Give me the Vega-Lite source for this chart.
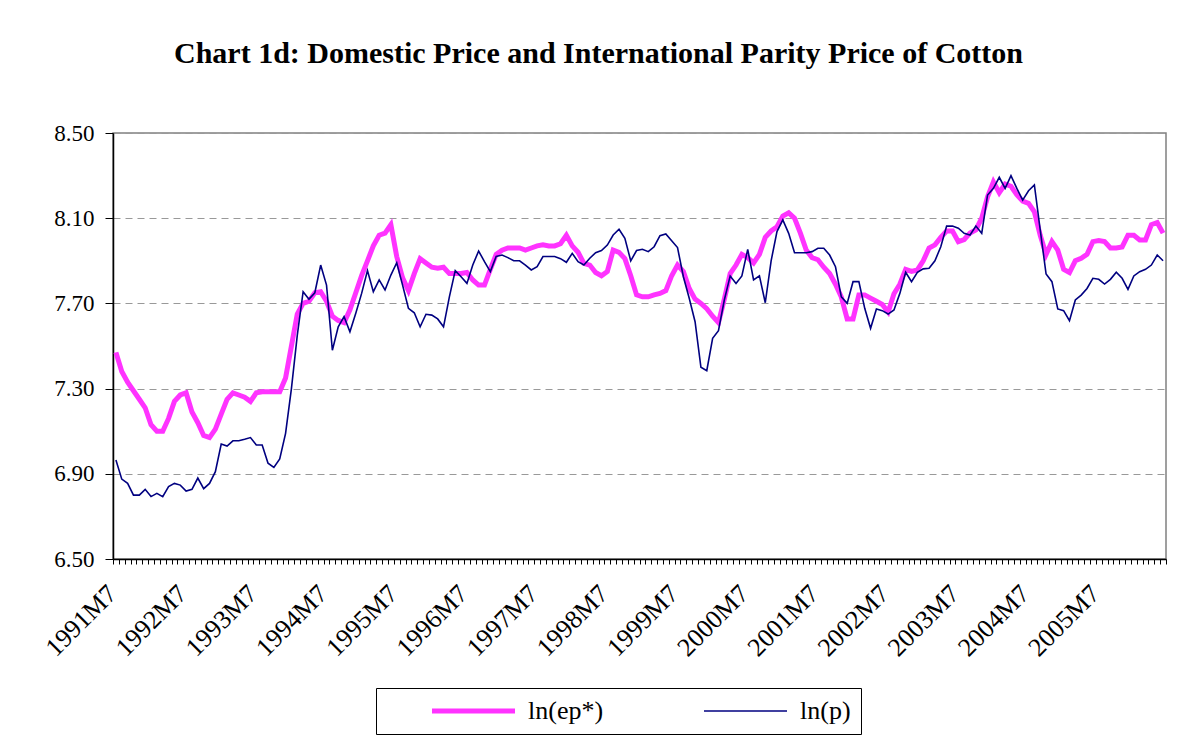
{
  "$schema": "https://vega.github.io/schema/vega-lite/v6.json",
  "width": 1053,
  "height": 426,
  "autosize": {"type": "none"},
  "padding": {"left": 113, "top": 133, "right": 21, "bottom": 180},
  "background": "white",
  "config": {"font": "Liberation Serif", "view": {"stroke": "#808080", "strokeWidth": 1.5}},
  "title": {"text": "Chart 1d: Domestic Price and International Parity Price of Cotton", "font": "Liberation Serif", "fontSize": 30, "fontWeight": "bold", "color": "black", "anchor": "middle", "baseline": "bottom", "offset": 23, "dx": -41},
  "data": {"values": [
    {"m":"1991M7","ep":7.47,"p":6.965},{"m":"1991M8","ep":7.38,"p":6.875},{"m":"1991M9","ep":7.33,"p":6.855},{"m":"1991M10","ep":7.29,"p":6.80},{"m":"1991M11","ep":7.25,"p":6.80},{"m":"1991M12","ep":7.21,"p":6.827},
    {"m":"1992M1","ep":7.13,"p":6.793},{"m":"1992M2","ep":7.10,"p":6.808},{"m":"1992M3","ep":7.10,"p":6.793},{"m":"1992M4","ep":7.16,"p":6.84},{"m":"1992M5","ep":7.24,"p":6.855},{"m":"1992M6","ep":7.27,"p":6.847},
    {"m":"1992M7","ep":7.28,"p":6.819},{"m":"1992M8","ep":7.19,"p":6.827},{"m":"1992M9","ep":7.14,"p":6.88},{"m":"1992M10","ep":7.08,"p":6.83},{"m":"1992M11","ep":7.07,"p":6.855},{"m":"1992M12","ep":7.11,"p":6.91},
    {"m":"1993M1","ep":7.18,"p":7.04},{"m":"1993M2","ep":7.25,"p":7.03},{"m":"1993M3","ep":7.28,"p":7.055},{"m":"1993M4","ep":7.27,"p":7.055},{"m":"1993M5","ep":7.26,"p":7.062},{"m":"1993M6","ep":7.24,"p":7.07},
    {"m":"1993M7","ep":7.28,"p":7.035},{"m":"1993M8","ep":7.285,"p":7.035},{"m":"1993M9","ep":7.285,"p":6.95},{"m":"1993M10","ep":7.285,"p":6.93},{"m":"1993M11","ep":7.285,"p":6.97},{"m":"1993M12","ep":7.35,"p":7.09},
    {"m":"1994M1","ep":7.50,"p":7.30},{"m":"1994M2","ep":7.65,"p":7.55},{"m":"1994M3","ep":7.70,"p":7.755},{"m":"1994M4","ep":7.71,"p":7.72},{"m":"1994M5","ep":7.75,"p":7.75},{"m":"1994M6","ep":7.755,"p":7.88},
    {"m":"1994M7","ep":7.71,"p":7.786},{"m":"1994M8","ep":7.64,"p":7.48},{"m":"1994M9","ep":7.62,"p":7.59},{"m":"1994M10","ep":7.61,"p":7.638},{"m":"1994M11","ep":7.67,"p":7.567},{"m":"1994M12","ep":7.75,"p":7.654},
    {"m":"1995M1","ep":7.83,"p":7.747},{"m":"1995M2","ep":7.90,"p":7.854},{"m":"1995M3","ep":7.97,"p":7.755},{"m":"1995M4","ep":8.02,"p":7.81},{"m":"1995M5","ep":8.03,"p":7.763},{"m":"1995M6","ep":8.07,"p":7.833},
    {"m":"1995M7","ep":7.92,"p":7.891},{"m":"1995M8","ep":7.82,"p":7.786},{"m":"1995M9","ep":7.76,"p":7.677},{"m":"1995M10","ep":7.84,"p":7.656},{"m":"1995M11","ep":7.91,"p":7.59},{"m":"1995M12","ep":7.89,"p":7.649},
    {"m":"1996M1","ep":7.87,"p":7.645},{"m":"1996M2","ep":7.865,"p":7.627},{"m":"1996M3","ep":7.87,"p":7.59},{"m":"1996M4","ep":7.84,"p":7.731},{"m":"1996M5","ep":7.84,"p":7.854},{"m":"1996M6","ep":7.84,"p":7.825},
    {"m":"1996M7","ep":7.845,"p":7.794},{"m":"1996M8","ep":7.81,"p":7.88},{"m":"1996M9","ep":7.786,"p":7.946},{"m":"1996M10","ep":7.786,"p":7.896},{"m":"1996M11","ep":7.86,"p":7.849},{"m":"1996M12","ep":7.93,"p":7.92},
    {"m":"1997M1","ep":7.95,"p":7.927},{"m":"1997M2","ep":7.96,"p":7.915},{"m":"1997M3","ep":7.96,"p":7.90},{"m":"1997M4","ep":7.96,"p":7.90},{"m":"1997M5","ep":7.95,"p":7.88},{"m":"1997M6","ep":7.96,"p":7.857},
    {"m":"1997M7","ep":7.97,"p":7.872},{"m":"1997M8","ep":7.975,"p":7.92},{"m":"1997M9","ep":7.97,"p":7.92},{"m":"1997M10","ep":7.97,"p":7.92},{"m":"1997M11","ep":7.98,"p":7.91},{"m":"1997M12","ep":8.02,"p":7.893},
    {"m":"1998M1","ep":7.97,"p":7.935},{"m":"1998M2","ep":7.94,"p":7.896},{"m":"1998M3","ep":7.888,"p":7.88},{"m":"1998M4","ep":7.88,"p":7.912},{"m":"1998M5","ep":7.845,"p":7.938},{"m":"1998M6","ep":7.83,"p":7.948},
    {"m":"1998M7","ep":7.85,"p":7.974},{"m":"1998M8","ep":7.95,"p":8.021},{"m":"1998M9","ep":7.94,"p":8.048},{"m":"1998M10","ep":7.91,"p":8.006},{"m":"1998M11","ep":7.83,"p":7.90},{"m":"1998M12","ep":7.74,"p":7.948},
    {"m":"1999M1","ep":7.731,"p":7.954},{"m":"1999M2","ep":7.731,"p":7.943},{"m":"1999M3","ep":7.74,"p":7.966},{"m":"1999M4","ep":7.747,"p":8.018},{"m":"1999M5","ep":7.76,"p":8.026},{"m":"1999M6","ep":7.83,"p":7.994},
    {"m":"1999M7","ep":7.88,"p":7.962},{"m":"1999M8","ep":7.85,"p":7.825},{"m":"1999M9","ep":7.77,"p":7.724},{"m":"1999M10","ep":7.72,"p":7.614},{"m":"1999M11","ep":7.70,"p":7.40},{"m":"1999M12","ep":7.675,"p":7.384},
    {"m":"2000M1","ep":7.64,"p":7.536},{"m":"2000M2","ep":7.61,"p":7.572},{"m":"2000M3","ep":7.72,"p":7.716},{"m":"2000M4","ep":7.84,"p":7.829},{"m":"2000M5","ep":7.88,"p":7.794},{"m":"2000M6","ep":7.93,"p":7.829},
    {"m":"2000M7","ep":7.915,"p":7.954},{"m":"2000M8","ep":7.89,"p":7.81},{"m":"2000M9","ep":7.93,"p":7.829},{"m":"2000M10","ep":8.01,"p":7.703},{"m":"2000M11","ep":8.04,"p":7.90},{"m":"2000M12","ep":8.06,"p":8.037},
    {"m":"2001M1","ep":8.11,"p":8.092},{"m":"2001M2","ep":8.125,"p":8.029},{"m":"2001M3","ep":8.10,"p":7.938},{"m":"2001M4","ep":8.03,"p":7.938},{"m":"2001M5","ep":7.95,"p":7.938},{"m":"2001M6","ep":7.915,"p":7.943},
    {"m":"2001M7","ep":7.905,"p":7.959},{"m":"2001M8","ep":7.87,"p":7.959},{"m":"2001M9","ep":7.84,"p":7.927},{"m":"2001M10","ep":7.79,"p":7.872},{"m":"2001M11","ep":7.73,"p":7.731},{"m":"2001M12","ep":7.627,"p":7.70},
    {"m":"2002M1","ep":7.627,"p":7.802},{"m":"2002M2","ep":7.74,"p":7.802},{"m":"2002M3","ep":7.74,"p":7.677},{"m":"2002M4","ep":7.725,"p":7.583},{"m":"2002M5","ep":7.71,"p":7.674},{"m":"2002M6","ep":7.695,"p":7.666},
    {"m":"2002M7","ep":7.66,"p":7.65},{"m":"2002M8","ep":7.745,"p":7.669},{"m":"2002M9","ep":7.79,"p":7.747},{"m":"2002M10","ep":7.86,"p":7.846},{"m":"2002M11","ep":7.85,"p":7.802},{"m":"2002M12","ep":7.857,"p":7.846},
    {"m":"2003M1","ep":7.90,"p":7.862},{"m":"2003M2","ep":7.96,"p":7.865},{"m":"2003M3","ep":7.975,"p":7.90},{"m":"2003M4","ep":8.01,"p":7.966},{"m":"2003M5","ep":8.04,"p":8.063},{"m":"2003M6","ep":8.04,"p":8.063},
    {"m":"2003M7","ep":7.99,"p":8.053},{"m":"2003M8","ep":8.00,"p":8.029},{"m":"2003M9","ep":8.03,"p":8.021},{"m":"2003M10","ep":8.045,"p":8.063},{"m":"2003M11","ep":8.10,"p":8.029},{"m":"2003M12","ep":8.20,"p":8.209},
    {"m":"2004M1","ep":8.27,"p":8.24},{"m":"2004M2","ep":8.22,"p":8.292},{"m":"2004M3","ep":8.26,"p":8.24},{"m":"2004M4","ep":8.25,"p":8.30},{"m":"2004M5","ep":8.21,"p":8.24},{"m":"2004M6","ep":8.18,"p":8.185},
    {"m":"2004M7","ep":8.17,"p":8.229},{"m":"2004M8","ep":8.13,"p":8.256},{"m":"2004M9","ep":8.02,"p":8.045},{"m":"2004M10","ep":7.93,"p":7.838},{"m":"2004M11","ep":7.99,"p":7.802},{"m":"2004M12","ep":7.95,"p":7.674},
    {"m":"2005M1","ep":7.86,"p":7.666},{"m":"2005M2","ep":7.845,"p":7.619},{"m":"2005M3","ep":7.90,"p":7.716},{"m":"2005M4","ep":7.912,"p":7.739},{"m":"2005M5","ep":7.93,"p":7.77},{"m":"2005M6","ep":7.99,"p":7.818},
    {"m":"2005M7","ep":7.995,"p":7.813},{"m":"2005M8","ep":7.99,"p":7.791},{"m":"2005M9","ep":7.96,"p":7.813},{"m":"2005M10","ep":7.96,"p":7.846},{"m":"2005M11","ep":7.965,"p":7.818},{"m":"2005M12","ep":8.02,"p":7.766},
    {"m":"2006M1","ep":8.02,"p":7.829},{"m":"2006M2","ep":7.998,"p":7.849},{"m":"2006M3","ep":7.998,"p":7.86},{"m":"2006M4","ep":8.07,"p":7.88},{"m":"2006M5","ep":8.08,"p":7.927},{"m":"2006M6","ep":8.03,"p":7.90}
  ]},
  "transform": [{"fold": ["ep", "p"], "as": ["series", "value"]}],
  "mark": {"type": "line"},
  "encoding": {
    "x": {
      "field": "m", "type": "ordinal", "sort": null, "bandPosition": 0.5,
      "scale": {"type": "band", "paddingInner": 0, "paddingOuter": 0},
      "axis": {"title": null, "labelAngle": -45, "labelAlign": "right", "labelBaseline": "top", "labelFont": "Liberation Serif", "labelFontSize": 26, "labelColor": "black", "labelExpr": "indexof(datum.label, 'M7') > 0 ? datum.label : ''", "labelOverlap": false, "labelPadding": 16, "labelOffset": -13, "tickBand": "extent", "tickColor": "black", "tickSize": 5, "domainColor": "black", "domainWidth": 1.5, "grid": false}
    },
    "y": {
      "field": "value", "type": "quantitative",
      "scale": {"domain": [6.5, 8.5], "nice": false, "zero": false},
      "axis": {"title": null, "values": [6.5, 6.9, 7.3, 7.7, 8.1, 8.5], "format": ".2f", "labelFont": "Liberation Serif", "labelFontSize": 23, "labelColor": "black", "labelPadding": 11, "tickColor": "black", "tickSize": 8, "domainColor": "black", "domainWidth": 1.5, "grid": true, "gridDash": [7, 5], "gridColor": "#999999", "gridWidth": 1.2}
    },
    "color": {
      "field": "series", "type": "nominal",
      "scale": {"domain": ["ep", "p"], "range": ["#FF33FF", "#000080"]},
      "legend": {"orient": "none", "legendX": 263, "legendY": 555, "direction": "horizontal", "title": null, "symbolType": "M6.6,0H23.2", "symbolSize": 100, "labelFont": "Liberation Serif", "labelFontSize": 26, "labelColor": "black", "labelExpr": "datum.label == 'ep' ? 'ln(ep*)' : 'ln(p)'", "strokeColor": "black", "padding": 10, "columnPadding": 54, "labelOffset": 116}
    },
    "strokeWidth": {
      "field": "series", "type": "nominal",
      "scale": {"domain": ["ep", "p"], "range": [5, 1.6]},
      "legend": {"orient": "none", "legendX": 263, "legendY": 555, "direction": "horizontal", "title": null, "symbolType": "M6.6,0H23.2", "symbolSize": 100, "labelFont": "Liberation Serif", "labelFontSize": 26, "labelColor": "black", "labelExpr": "datum.label == 'ep' ? 'ln(ep*)' : 'ln(p)'", "strokeColor": "black", "padding": 10, "columnPadding": 54, "labelOffset": 116}
    }
  }
}
